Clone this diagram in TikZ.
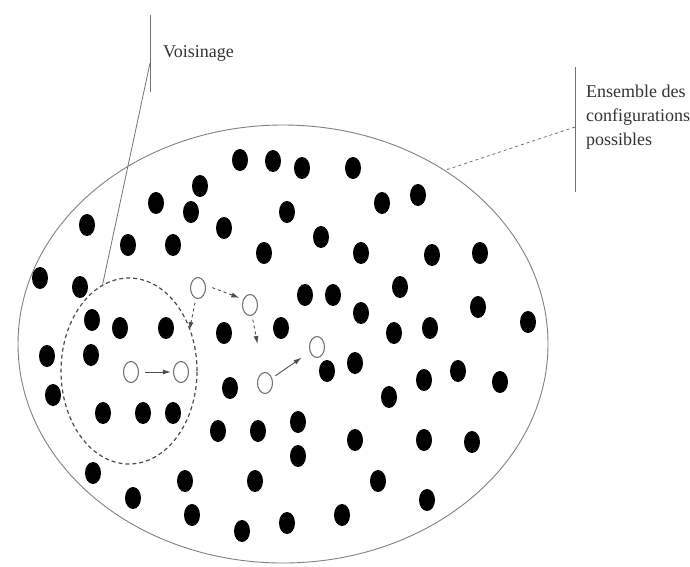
\documentclass[tikz,border=0pt]{standalone}
\usepackage{fontspec}
\setmainfont{Liberation Serif}
\usetikzlibrary{shapes.geometric,arrows.meta,calc}
\tikzset{
  dot/.style={ellipse,fill=black,draw=none,minimum width=16pt,minimum height=22pt,inner sep=0pt},
  opendot/.style={ellipse,draw=black!55,line width=1.1pt,fill=white,minimum width=15pt,minimum height=21pt,inner sep=0pt},
  conn/.style={draw=black!55,line width=0.8pt},
  move/.style={draw=black!70,line width=0.9pt,-{Latex[length=8pt,width=5pt]}},
  lbl/.style={font=\fontsize{18}{24}\selectfont,text=black!80,inner sep=0pt}
}
\begin{document}
\begin{tikzpicture}[x=1pt,y=-1pt]
\useasboundingbox (0,0) rectangle (690,566);
% set of configurations
\node[ellipse,draw=black!50,line width=0.9pt,minimum width=530pt,minimum height=438pt,inner sep=0pt] (E) at (283,344) {};
% neighbourhood
\node[ellipse,draw=black!70,line width=1.2pt,dash pattern=on 4pt off 3pt,minimum width=136pt,minimum height=186pt,inner sep=0pt] (V) at (129,371) {};
% black dots
\foreach \p [count=\i] in {(240,160),(273,161),(302,168),(353,168),
(200,186),(156,203),(191,212),(287,212),(382,203),(418,195),
(87,225),(224,228),(128,245),(173,245),(264,253),(321,237),(361,253),(432,255),(480,253),
(40,278),(80,287),(305,295),(333,295),(400,287),
(92,320),(120,328),(166,328),(224,333),(281,328),(361,313),(478,307),(528,322),(394,333),(430,328),
(47,356),(91,355),(327,371),(355,363),(424,380),(458,371),(500,382),(389,397),(53,395),(230,388),
(103,413),(143,413),(173,413),(218,431),(258,431),(298,422),(298,456),(355,440),(424,440),(472,442),
(93,473),(133,498),(185,481),(255,481),(378,481),(427,500),(192,515),(242,531),(287,523),(342,515)}
  \node[dot] (d\i) at \p {};
% open dots (search path)
\node[opendot] (c1) at (131,372) {};
\node[opendot] (c2) at (181,372) {};
\node[opendot] (c3) at (198,288) {};
\node[opendot] (c4) at (250,305) {};
\node[opendot] (c5) at (265,383) {};
\node[opendot] (c6) at (317,347) {};
% moves
\draw[move,shorten <=6pt,shorten >=2pt] (c1) -- (c2);
\draw[move,dashed,shorten <=4pt] (c3) -- ($(c3)!0.5!(c2)$);
\draw[move,dashed,shorten <=7pt,shorten >=4pt] (c3.20) -- (c4.140);
\draw[move,dashed,shorten <=4pt] (c4) -- ($(c4)!0.5!(c5)$);
\draw[move,shorten <=4pt,shorten >=10pt] (c5) -- (c6);
% label: Voisinage
\node[lbl,anchor=base west] (vlab) at (163,57) {Voisinage};
\coordinate (vtop) at (150,15);
\coordinate (vbot) at (150,92);
\coordinate (vjoin) at (150,63);
\draw[conn] (vtop) -- (vbot);
\draw[conn] (vjoin) -- (V.107);
% label: Ensemble des configurations possibles
\node[lbl,anchor=north west,align=left] (elab) at (586,85) {Ensemble des\\configurations\\possibles};
\coordinate (etop) at (575,67);
\coordinate (ebot) at (575,192);
\coordinate (ejoin) at (575,127);
\draw[conn] (etop) -- (ebot);
\draw[conn,dashed] (ejoin) -- (E.47);
\end{tikzpicture}
\end{document}
